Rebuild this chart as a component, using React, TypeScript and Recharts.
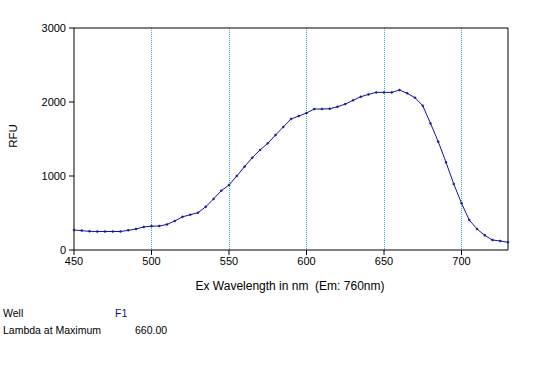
import React from 'react';
import { LineChart, Line, XAxis, YAxis, ReferenceLine } from 'recharts';

// excitation scan, 5 nm steps
const wavelengths = [
  450, 455, 460, 465, 470, 475, 480, 485, 490, 495,
  500, 505, 510, 515, 520, 525, 530, 535, 540, 545,
  550, 555, 560, 565, 570, 575, 580, 585, 590, 595,
  600, 605, 610, 615, 620, 625, 630, 635, 640, 645,
  650, 655, 660, 665, 670, 675, 680, 685, 690, 695,
  700, 705, 710, 715, 720, 725, 730,
];
const rfu = [
  270, 262, 252, 250, 250, 250, 250, 266, 284, 312,
  322, 324, 345, 392, 448, 477, 504, 585, 689, 801,
  878, 1000, 1126, 1247, 1351, 1441, 1553, 1662, 1770, 1810,
  1851, 1905, 1905, 1909, 1936, 1972, 2022, 2071, 2103, 2130,
  2130, 2130, 2162, 2117, 2058, 1950, 1711, 1464, 1185, 892,
  631, 405, 284, 198, 135, 122, 104,
];

const xMajorTicks = [450, 500, 550, 600, 650, 700];
const xMinorTicks = [450, 460, 470, 480, 490, 500, 510, 520, 530, 540, 550, 560, 570, 580, 590, 600, 610, 620, 630, 640, 650, 660, 670, 680, 690, 700, 710, 720, 730];
const yMajorTicks = [0, 1000, 2000, 3000];
const yMinorTicks = [0, 250, 500, 750, 1000, 1250, 1500, 1750, 2000, 2250, 2500, 2750, 3000];
const gridLines = [500, 550, 600, 650, 700];

const xLabel = 'Ex Wavelength in nm  (Em: 760nm)';
const yLabel = 'RFU';
const wellName = 'F1';
const lambdaMax = '660.00';

const FONT = '"Liberation Sans", Arial, sans-serif';
const LINE_COLOR = '#14149c';
const GRID_COLOR = '#33aadd';

const data = wavelengths.map((w, i) => ({ nm: w, rfu: rfu[i] }));

// dotted vertical line snapped to a pixel column, like the instrument software draws it
const DottedLine = (props: any) => {
  const x = Math.floor(props.x1) + 0.5;
  return (
    <line
      x1={x}
      x2={x}
      y1={props.y1 + 1}
      y2={props.y2}
      stroke={GRID_COLOR}
      strokeWidth={1}
      strokeDasharray="1 1"
    />
  );
};

const textStyle: React.CSSProperties = {
  position: 'absolute',
  fontFamily: FONT,
  fontSize: 10.5,
  color: '#000',
  whiteSpace: 'pre',
  lineHeight: '13px',
};

export default function App() {
  return (
    <div style={{ position: 'absolute', left: 0, top: 0, width: 546, height: 369, background: '#fff' }}>
      <LineChart
        width={546}
        height={369}
        data={data}
        margin={{ top: 28, right: 38, left: 0, bottom: 89 }}
      >
        <XAxis
          xAxisId="major"
          dataKey="nm"
          type="number"
          domain={[450, 730]}
          ticks={xMajorTicks}
          height={30}
          tickSize={5}
          tickMargin={2}
          axisLine={{ stroke: '#000' }}
          tickLine={{ stroke: '#000' }}
          tick={{ fill: '#000', fontSize: 11, fontFamily: FONT }}
        />
        <XAxis
          xAxisId="minor"
          dataKey="nm"
          type="number"
          domain={[450, 730]}
          ticks={xMinorTicks}
          mirror
          tick={false}
          tickSize={3}
          axisLine={false}
          tickLine={{ stroke: '#000' }}
        />
        <YAxis
          yAxisId="major"
          type="number"
          domain={[0, 3000]}
          ticks={yMajorTicks}
          width={74}
          tickSize={5}
          tickMargin={3}
          axisLine={{ stroke: '#000' }}
          tickLine={{ stroke: '#000' }}
          tick={{ fill: '#000', fontSize: 11, fontFamily: FONT }}
        />
        <YAxis
          yAxisId="minor"
          type="number"
          domain={[0, 3000]}
          ticks={yMinorTicks}
          mirror
          tick={false}
          tickSize={3}
          axisLine={false}
          tickLine={{ stroke: '#000' }}
        />
        {gridLines.map((g) => (
          <ReferenceLine
            key={g}
            x={g}
            xAxisId="major"
            yAxisId="major"
            shape={DottedLine}
          />
        ))}
        <ReferenceLine y={3000} xAxisId="major" yAxisId="major" stroke="#000" />
        <ReferenceLine x={730} xAxisId="major" yAxisId="major" stroke="#000" />
        <Line
          xAxisId="major"
          yAxisId="major"
          type="linear"
          dataKey="rfu"
          stroke={LINE_COLOR}
          strokeWidth={1}
          dot={{ r: 1, fill: LINE_COLOR, stroke: LINE_COLOR, strokeWidth: 0.5 }}
          isAnimationActive={false}
        />
      </LineChart>
      <div style={{ ...textStyle, fontSize: 12, left: 0, width: 580, top: 280, textAlign: 'center' }}>{xLabel}</div>
      <div
        style={{
          ...textStyle,
          fontSize: 11.5,
          left: 13,
          top: 136,
          transform: 'translate(-50%, -50%) rotate(-90deg)',
        }}
      >
        {yLabel}
      </div>
      <div style={{ ...textStyle, left: 3, top: 307 }}>Well</div>
      <div style={{ ...textStyle, left: 115, top: 307, color: '#10108c' }}>{wellName}</div>
      <div style={{ ...textStyle, left: 3, top: 324 }}>Lambda at Maximum</div>
      <div style={{ ...textStyle, left: 135, top: 324 }}>{lambdaMax}</div>
    </div>
  );
}
